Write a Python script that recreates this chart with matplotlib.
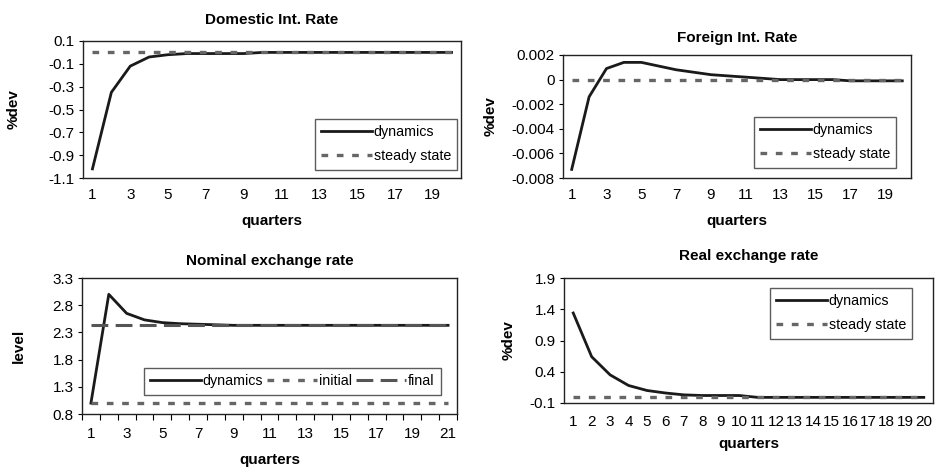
import matplotlib
matplotlib.use("Agg")
import matplotlib.pyplot as plt
from matplotlib.ticker import FixedLocator, FuncFormatter

plt.rcParams['font.family'] = ['Liberation Sans', 'DejaVu Sans']
plt.rcParams['font.size'] = 11

# data
q20 = list(range(1, 21))
q21 = list(range(1, 22))

dom_rate = [-1.02, -0.35, -0.12, -0.04, -0.02, -0.01, -0.01, -0.01, -0.01, 0.0,
            0.0, 0.0, 0.0, 0.0, 0.0, 0.0, 0.0, 0.0, 0.0, 0.0]
dom_ss = 0.0

for_rate = [-0.0073, -0.0014, 0.0009, 0.0014, 0.0014, 0.0011, 0.0008, 0.0006, 0.0004, 0.0003,
            0.0002, 0.0001, 0.0, 0.0, 0.0, 0.0, -0.0001, -0.0001, -0.0001, -0.0001]
for_ss = 0.0

nom_rate = [1.0, 3.0, 2.65, 2.53, 2.48, 2.46, 2.45, 2.44, 2.43, 2.43, 2.43,
            2.43, 2.43, 2.43, 2.43, 2.43, 2.43, 2.43, 2.43, 2.43, 2.43]
nom_initial = 1.0
nom_final = 2.43

real_rate = [1.34, 0.64, 0.35, 0.18, 0.10, 0.06, 0.03, 0.02, 0.02, 0.02,
             -0.01, -0.01, -0.01, -0.01, -0.01, -0.01, -0.01, -0.01, -0.01, -0.01]
real_ss = 0.0

DYN = dict(color='#1a1a1a', lw=2.0, solid_joinstyle='round')
SS = dict(color='#666666', lw=2.4, linestyle=(0, (2.0, 2.6)))
FIN = dict(color='#555555', lw=2.2, linestyle=(0, (5.5, 2.4)))

W, H = 937, 467
fig = plt.figure(figsize=(W / 100, H / 100), dpi=100)


def px_axes(x0, y0, x1, y1):
    return fig.add_axes([x0 / W, 1 - y1 / H, (x1 - x0) / W, (y1 - y0) / H])


def style(ax, ylim, yticks, yfmt, title, tpad, ylabel, ylpad, xpad, xlpad):
    ax.set_ylim(*ylim)
    ax.set_yticks(yticks)
    ax.yaxis.set_major_formatter(FuncFormatter(yfmt))
    ax.set_title(title, fontweight='bold', fontsize=11, pad=tpad)
    ax.set_ylabel(ylabel, fontweight='bold', fontsize=11, labelpad=ylpad)
    ax.set_xlabel('quarters', fontweight='bold', fontsize=11, labelpad=xlpad)
    ax.tick_params(axis='y', length=3, width=0.8, pad=3, labelsize=11)
    ax.tick_params(axis='x', length=0, pad=xpad, labelsize=11)
    for s in ax.spines.values():
        s.set_linewidth(1.0)
        s.set_color('#222222')


def legend(ax, x0, y0, ncol=1):
    leg = ax.legend(loc='upper left', bbox_to_anchor=(x0 / W, 1 - y0 / H),
                    bbox_transform=fig.transFigure, ncol=ncol, fontsize=10.3,
                    frameon=True, fancybox=False, edgecolor='#333333',
                    handlelength=3.5, handletextpad=0.15, borderpad=0.45,
                    labelspacing=0.7, columnspacing=0.25, borderaxespad=0)
    leg.get_frame().set_linewidth(1.0)


# Domestic Int. Rate
ax1 = px_axes(83, 41, 461, 178)
ax1.plot(q20, dom_rate, label='dynamics', **DYN)
ax1.plot(q20, [dom_ss] * len(q20), label='steady state', **SS)
ax1.set_xlim(0.5, 20.5)
ax1.set_xticks(q20[::2])
style(ax1, (-1.1, 0.1), [-1.1, -0.9, -0.7, -0.5, -0.3, -0.1, 0.1],
      lambda v, p: f'{v:.1f}', 'Domestic Int. Rate', 12, '%dev', 20, 7, 9)
legend(ax1, 315, 119)

# Foreign Int. Rate
ax2 = px_axes(563, 55, 911, 178)
ax2.plot(q20, for_rate, label='dynamics', **DYN)
ax2.plot(q20, [for_ss] * len(q20), label='steady state', **SS)
ax2.set_xlim(0.5, 20.5)
ax2.set_xticks(q20[::2])
style(ax2, (-0.008, 0.002), [-0.008, -0.006, -0.004, -0.002, 0, 0.002],
      lambda v, p: '0' if abs(v) < 1e-9 else f'{v:.3f}', 'Foreign Int. Rate', 9.5,
      '%dev', 10, 7, 9)
legend(ax2, 754, 117)

# Nominal exchange rate
ax3 = px_axes(82, 278, 457, 414)
ax3.plot(q21, nom_rate, label='dynamics', **DYN)
ax3.plot(q21, [nom_initial] * len(q21), label='initial', **SS)
ax3.plot(q21, [nom_final] * len(q21), label='final', **FIN)
ax3.set_xlim(0.5, 21.5)
ax3.set_xticks(q21[::2])
ax3.xaxis.set_minor_locator(FixedLocator([i + 0.5 for i in range(0, 22)]))
style(ax3, (0.8, 3.3), [0.8, 1.3, 1.8, 2.3, 2.8, 3.3],
      lambda v, p: f'{v:.1f}', 'Nominal exchange rate', 9.5, 'level', 19, 9, 9)
ax3.tick_params(axis='x', which='minor', length=4, width=0.8)
legend(ax3, 144, 368, ncol=3)

# Real exchange rate
ax4 = px_axes(564, 278, 933, 403)
ax4.plot(q20, real_rate, label='dynamics', **DYN)
ax4.plot(q20, [real_ss] * len(q20), label='steady state', **SS)
ax4.set_xlim(0.5, 20.5)
ax4.set_xticks(q20)
style(ax4, (-0.1, 1.9), [-0.1, 0.4, 0.9, 1.4, 1.9],
      lambda v, p: f'{v:.1f}', 'Real exchange rate', 13, '%dev', 10, 8.5, 6)
legend(ax4, 770, 288)

fig.savefig('out.png', dpi=100)
